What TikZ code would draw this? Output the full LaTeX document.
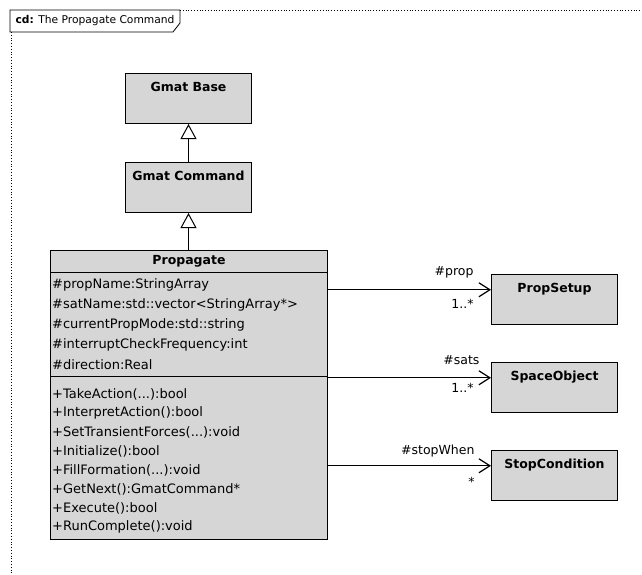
\documentclass[tikz,border=0pt]{standalone}
\usepackage{fontspec}
\setmainfont{DejaVu Sans}
\usetikzlibrary{arrows.meta,positioning,calc}
\definecolor{Halftone}{HTML}{D6D6D6}
\newcommand\argdots{...}

\begin{document}
\begin{tikzpicture}[x=1pt,y=-1pt,
  clsbox/.style={draw,line width=1pt,fill=Halftone,anchor=north west,minimum width=126pt,
    inner ysep=3pt,text height=15pt,text depth=29pt,font=\fontsize{12.5}{14}\bfseries},
  member/.style={anchor=west,inner sep=1pt,font=\fontsize{13}{15}\selectfont},
  inherit/.style={line width=1pt,-{Triangle[open,length=15pt,width=16pt]}},
  assoc/.style={line width=1pt,-{Straight Barb[length=11pt,width=14pt,line width=1.2pt]}},
  role/.style={font=\fontsize{12.5}{14}\selectfont,inner sep=1pt}]
\useasboundingbox (0,0) rectangle (642,575);
\draw[dotted,line width=.8pt] (180,10) -- (642,10);
\draw[dotted,line width=.8pt] (11,32) -- (11,575);
\draw[line width=.8pt] (10,10) -- (180,10) -- (180,23) -- (173,32) -- (10,32) -- cycle;
\node[anchor=west,font=\fontsize{10.7}{13}\selectfont] (frametitle) at (12,21) {\textbf{cd:} The Propagate Command};

\node[clsbox] (base) at (125,73) {Gmat Base};
\node[clsbox] (command) at (125,162) {Gmat Command};
\node[draw,line width=1pt,fill=Halftone,anchor=north west,minimum width=277pt,minimum height=289pt,inner sep=0pt] (propagate) at (50,250) {};
\node[font=\fontsize{12.5}{14}\bfseries] (propname) at ($(propagate.north)+(0,11)$) {Propagate};
\draw[line width=1pt] ($(propagate.north west)+(0,22)$) -- ($(propagate.north east)+(0,22)$);
\draw[line width=1pt] ($(propagate.north west)+(0,126)$) -- ($(propagate.north east)+(0,126)$);
\foreach \txt [count=\i] in {\#propName:StringArray,\#satName:std::vector<StringArray*>,\#currentPropMode:std::string,\#interruptCheckFrequency:int,\#direction:Real}
  \node[member] (attr\i) at (51,265+20*\i) {\txt};
\foreach \txt [count=\i] in {+TakeAction(\argdots):bool,+InterpretAction():bool,+SetTransientForces(\argdots):void,+Initialize():bool,+FillFormation(\argdots):void,+GetNext():GmatCommand*,+Execute():bool,+RunComplete():void}
  \node[member] (meth\i) at (51,375+19*\i) {\txt};

\node[clsbox] (propsetup) at (491,274) {PropSetup};
\node[clsbox] (spaceobj) at (491,362) {SpaceObject};
\node[clsbox] (stopcond) at (491,450) {StopCondition};

\draw[inherit] (command.north) -- (base.south);
\draw[inherit] (propagate.north -| command.south) -- (command.south);

\draw[assoc] (propagate.east |- propsetup.mid west) -- (propsetup.mid west)
  node[role,at end,anchor=south east,xshift=-16pt,yshift=10pt] {\#prop}
  node[role,at end,anchor=north east,xshift=-16pt,yshift=-8pt] {1..*};
\draw[assoc] (propagate.east |- spaceobj.mid west) -- (spaceobj.mid west)
  node[role,at end,anchor=south east,xshift=-10pt,yshift=12pt] {\#sats}
  node[role,at end,anchor=north east,xshift=-16pt,yshift=-4pt] {1..*};
\draw[assoc] (propagate.east |- stopcond.mid west) -- (stopcond.mid west)
  node[role,at end,anchor=south east,xshift=-15pt,yshift=7pt] {\#stopWhen}
  node[role,at end,anchor=north east,xshift=-15pt,yshift=-10pt] {*};
\end{tikzpicture}
\end{document}
